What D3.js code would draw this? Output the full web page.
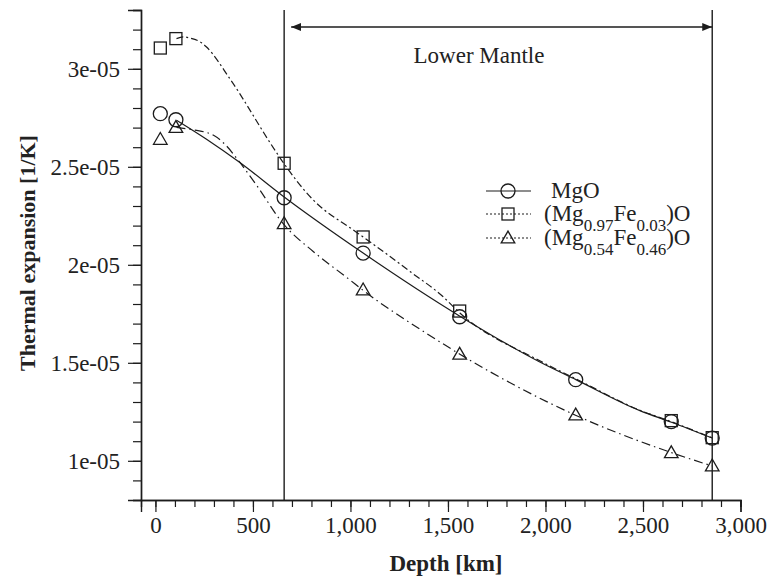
<!DOCTYPE html>
<html>
<head>
<meta charset="utf-8">
<script src="https://cdn.jsdelivr.net/npm/d3@7"></script>
<style>
  body { margin: 0; background: #fff; }
  svg { display: block; font-family: "Liberation Serif", "Times New Roman", serif; }
</style>
</head>
<body>
<div id="chart"></div>
<script>
// markers (depth km, thermal expansion 1/K)
const mgoDepth = [25, 105, 660, 1065, 1560, 2155, 2645, 2855]
const mgoAlpha = [2.771e-5, 2.740e-5, 2.342e-5, 2.060e-5, 1.735e-5, 1.414e-5, 1.200e-5, 1.116e-5]
const fe03Depth = [25, 105, 660, 1065, 1560, 2645, 2855]
const fe03Alpha = [3.106e-5, 3.154e-5, 2.518e-5, 2.142e-5, 1.764e-5, 1.205e-5, 1.118e-5]
const fe46Depth = [25, 105, 660, 1065, 1560, 2155, 2645, 2855]
const fe46Alpha = [2.640e-5, 2.701e-5, 2.210e-5, 1.872e-5, 1.544e-5, 1.234e-5, 1.041e-5, 0.974e-5]

// fitted curves
const mgoCurveDepth = [108, 262, 433, 655, 1065, 1561, 1971, 2156, 2484, 2646, 2855]
const mgoCurveAlpha = [2.738e-5, 2.641e-5, 2.522e-5, 2.350e-5, 2.060e-5, 1.738e-5, 1.504e-5, 1.414e-5, 1.256e-5, 1.197e-5, 1.116e-5]
const fe03CurveDepth = [108, 142, 176, 236, 262, 382, 604, 658, 807, 1012, 1065, 1305, 1474, 1561, 1971, 2156, 2484, 2646, 2855]
const fe03CurveAlpha = [3.154e-5, 3.163e-5, 3.157e-5, 3.133e-5, 3.111e-5, 2.949e-5, 2.598e-5, 2.518e-5, 2.333e-5, 2.179e-5, 2.142e-5, 1.966e-5, 1.838e-5, 1.754e-5, 1.510e-5, 1.418e-5, 1.258e-5, 1.199e-5, 1.117e-5]
const fe46CurveDepth = [108, 202, 296, 356, 433, 527, 638, 655, 809, 997, 1062, 1390, 1561, 2151, 2648, 2853]
const fe46CurveAlpha = [2.701e-5, 2.687e-5, 2.662e-5, 2.615e-5, 2.522e-5, 2.394e-5, 2.231e-5, 2.210e-5, 2.068e-5, 1.923e-5, 1.872e-5, 1.650e-5, 1.544e-5, 1.234e-5, 1.041e-5, 0.974e-5]

const xTicks = [0, 500, 1000, 1500, 2000, 2500, 3000]
const xTickLabels = ["0", "500", "1,000", "1,500", "2,000", "2,500", "3,000"]
const yTicks = [1e-5, 1.5e-5, 2e-5, 2.5e-5, 3e-5]
const yTickLabels = ["1e-05", "1.5e-05", "2e-05", "2.5e-05", "3e-05"]

const mantleTop = 660, mantleBottom = 2855

const width = 769, height = 577
const svg = d3.select("#chart").append("svg")
    .attr("width", width).attr("height", height)

const x = d3.scaleLinear().domain([-74, 3000]).range([141, 740.5])
const y = d3.scaleLinear().domain([0.8e-5, 3.3e-5]).range([500, 10])
const ink = "#1c1c1c"

// axes
const xMinor = d3.range(0, 3001, 100)
const yMinor = d3.range(8, 34).map(d => d * 1e-6)

svg.append("g").attr("transform", "translate(0,500)")
    .call(d3.axisBottom(x).tickValues(xMinor).tickSize(7).tickFormat(""))
svg.append("g").attr("transform", "translate(0,500)")
    .call(d3.axisBottom(x).tickValues(xTicks).tickSize(12).tickPadding(5)
        .tickFormat((d, i) => xTickLabels[i]))
svg.append("g").attr("transform", "translate(141,0)")
    .call(d3.axisLeft(y).tickValues(yMinor).tickSize(8).tickFormat(""))
svg.append("g").attr("transform", "translate(141,0)")
    .call(d3.axisLeft(y).tickValues(yTicks).tickSize(13).tickPadding(8)
        .tickFormat((d, i) => yTickLabels[i]))

svg.selectAll(".domain").attr("stroke", ink).attr("stroke-width", 1.4)
svg.selectAll(".tick line").attr("stroke", ink).attr("stroke-width", 1.2)
svg.selectAll(".tick text").attr("fill", "#222").style("font-size", "23px")
    .style("font-family", "Liberation Serif")

// axis titles
svg.append("text").attr("x", 446).attr("y", 571).attr("text-anchor", "middle")
    .style("font-size", "23px").style("font-weight", "bold").attr("fill", "#222")
    .text("Depth [km]")
svg.append("text").attr("transform", "translate(35,253) rotate(-90)")
    .attr("text-anchor", "middle")
    .style("font-size", "22px").style("font-weight", "bold").attr("fill", "#222")
    .text("Thermal expansion [1/K]")

// lower mantle lines
svg.selectAll(".mantle").data([mantleTop, mantleBottom]).enter().append("line")
    .attr("x1", d => x(d)).attr("x2", d => x(d))
    .attr("y1", y(3.3e-5)).attr("y2", y(0.8e-5))
    .attr("stroke", ink).attr("stroke-width", 1.4)

const defs = svg.append("defs")
defs.append("marker").attr("id", "arr").attr("viewBox", "0 0 10 10")
    .attr("refX", 10).attr("refY", 5).attr("markerWidth", 10).attr("markerHeight", 10)
    .attr("markerUnits", "userSpaceOnUse").attr("orient", "auto-start-reverse")
    .append("path").attr("d", "M0,1 L10,5 L0,9 Z").attr("fill", ink)

svg.append("line")
    .attr("x1", x(mantleTop) + 7).attr("x2", x(mantleBottom))
    .attr("y1", 27).attr("y2", 27)
    .attr("stroke", ink).attr("stroke-width", 1.4)
    .attr("marker-start", "url(#arr)").attr("marker-end", "url(#arr)")

svg.append("text").attr("x", 479).attr("y", 63).attr("text-anchor", "middle")
    .style("font-size", "23px").attr("fill", "#222").text("Lower Mantle")

// curves
const line = d3.line().x(d => x(d[0])).y(d => y(d[1])).curve(d3.curveMonotoneX)
const series = [
    {depth: mgoCurveDepth, alpha: mgoCurveAlpha, dash: null},
    {depth: fe03CurveDepth, alpha: fe03CurveAlpha, dash: "7,3,2,3"},
    {depth: fe46CurveDepth, alpha: fe46CurveAlpha, dash: "9,4,1.5,4"}
]
series.forEach(s => {
    svg.append("path").datum(d3.zip(s.depth, s.alpha))
        .attr("d", line).attr("fill", "none")
        .attr("stroke", ink).attr("stroke-width", 1.2)
        .attr("stroke-dasharray", s.dash)
})

// markers
const tri = d3.symbol().type(d3.symbolTriangle).size(80)
function drawCircle(g, cx, cy) {
    g.append("circle").attr("cx", cx).attr("cy", cy).attr("r", 7)
        .attr("fill", "none").attr("stroke", ink).attr("stroke-width", 1.3)
}
function drawSquare(g, cx, cy) {
    g.append("rect").attr("x", cx - 6).attr("y", cy - 6).attr("width", 12).attr("height", 12)
        .attr("fill", "none").attr("stroke", ink).attr("stroke-width", 1.3)
}
function drawTri(g, cx, cy) {
    g.append("path").attr("d", tri).attr("transform", `translate(${cx},${cy + 1})`)
        .attr("fill", "none").attr("stroke", ink).attr("stroke-width", 1.3)
}
const mk = svg.append("g")
mgoDepth.forEach((d, i) => drawCircle(mk, x(d), y(mgoAlpha[i])))
fe03Depth.forEach((d, i) => drawSquare(mk, x(d), y(fe03Alpha[i])))
fe46Depth.forEach((d, i) => drawTri(mk, x(d), y(fe46Alpha[i])))

// legend
const legend = svg.append("g")
const rows = [
    {yy: 191, dash: null, draw: drawCircle},
    {yy: 214, dash: "2,2", draw: drawSquare},
    {yy: 238, dash: "2,2", draw: drawTri}
]
rows.forEach(r => {
    legend.append("line").attr("x1", 486).attr("x2", 531).attr("y1", r.yy).attr("y2", r.yy)
        .attr("stroke", ink).attr("stroke-width", 1.2).attr("stroke-dasharray", r.dash)
    r.draw(legend, 508, r.yy)
})
const lt = legend.append("g").style("font-size", "23px").attr("fill", "#222")
lt.append("text").attr("x", 551).attr("y", 198).text("MgO")
function formula(yy, a, b) {
    const t = lt.append("text").attr("x", 544).attr("y", yy)
    t.append("tspan").text("(Mg")
    t.append("tspan").attr("baseline-shift", "sub").style("font-size", "17px").text(a)
    t.append("tspan").text("Fe")
    t.append("tspan").attr("baseline-shift", "sub").style("font-size", "17px").text(b)
    t.append("tspan").text(")O")
}
formula(221, "0.97", "0.03")
formula(245, "0.54", "0.46")
</script>
</body>
</html>
